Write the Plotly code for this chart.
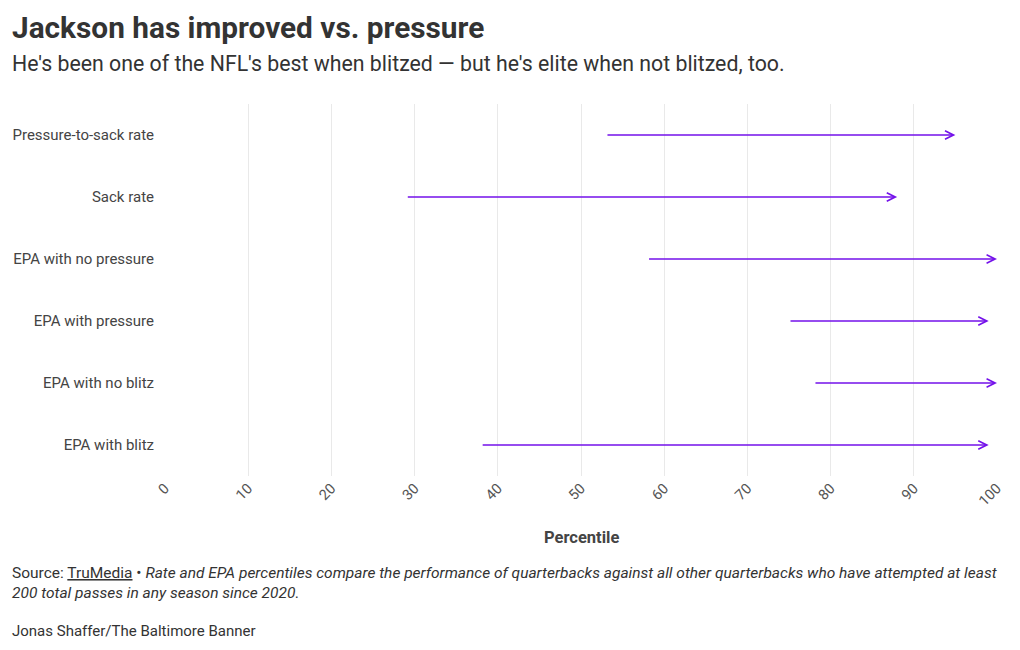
import plotly.graph_objects as go

categories = ["Pressure-to-sack rate", "Sack rate", "EPA with no pressure",
              "EPA with pressure", "EPA with no blitz", "EPA with blitz"]
start_pct = [53, 29, 58, 75, 78, 38]
end_pct = [95, 88, 100, 99, 100, 99]
tick_vals = [0, 10, 20, 30, 40, 50, 60, 70, 80, 90, 100]

PURPLE = "#7412ea"
FONT = "Roboto"

L, R, T, B = 165, 23, 104, 174
W, H = 1020, 650
ph = H - T - B
pw = W - L - R

def py(p):
    return (H - B - p) / ph

def px(p):
    return (p - L) / pw

fig = go.Figure()
# invisible trace to set up axes
fig.add_trace(go.Scatter(x=start_pct + end_pct, y=list(range(len(categories))) * 2,
                         mode="markers", marker=dict(opacity=0), hoverinfo="skip",
                         showlegend=False))

ann = []
for i, (s, e) in enumerate(zip(start_pct, end_pct)):
    ann.append(dict(x=e, y=i, ax=s, ay=i, xref="x", yref="y", axref="x", ayref="y",
                    showarrow=True, arrowhead=5, arrowsize=1.05, arrowwidth=1.6,
                    arrowcolor=PURPLE, text=""))

ann += [
    dict(text="<b>Jackson has improved vs. pressure</b>", x=px(10), y=py(28),
         xref="paper", yref="paper", xanchor="left", yanchor="middle", showarrow=False,
         font=dict(family=FONT, size=29.8, color="#333333")),
    dict(text="He's been one of the NFL's best when blitzed — but he's elite when not blitzed, too.",
         x=px(10), y=py(63), xref="paper", yref="paper", xanchor="left", yanchor="middle",
         showarrow=False, font=dict(family=FONT, size=21.3, color="#333333")),
    dict(text="<b>Percentile</b>", x=0.5, y=py(537), xref="paper", yref="paper",
         xanchor="center", yanchor="middle", showarrow=False,
         font=dict(family=FONT, size=16.5, color="#444444")),
    dict(text="Source: <u>TruMedia</u> • <i>Rate and EPA percentiles compare the performance of quarterbacks against all other quarterbacks who have attempted at least</i><br><i>200 total passes in any season since 2020.</i>",
         x=px(10), y=py(562), xref="paper", yref="paper", xanchor="left", yanchor="top",
         align="left", showarrow=False, font=dict(family=FONT, size=15.5, color="#333333")),
    dict(text="Jonas Shaffer/The Baltimore Banner", x=px(10), y=py(631), xref="paper",
         yref="paper", xanchor="left", yanchor="middle", showarrow=False,
         font=dict(family=FONT, size=15, color="#333333")),
]

fig.update_layout(
    width=W, height=H, margin=dict(l=L, r=R, t=T, b=B, autoexpand=False),
    paper_bgcolor="white", plot_bgcolor="white",
    font=dict(family=FONT, color="#444444"),
    annotations=ann,
    xaxis=dict(range=[0, 100], tickvals=tick_vals, tickangle=-45, showgrid=True,
               gridcolor="#e9e9e9", gridwidth=1, zeroline=False, showline=False,
               ticks="", tickfont=dict(family=FONT, size=14.5, color="#555555")),
    yaxis=dict(range=[len(categories) - 0.5, -0.5], tickvals=list(range(len(categories))),
               ticktext=categories, showgrid=False, zeroline=False, showline=False,
               ticks="", ticklabelstandoff=10,
               tickfont=dict(family=FONT, size=15, color="#444444")),
)

fig.write_html("out.html")
